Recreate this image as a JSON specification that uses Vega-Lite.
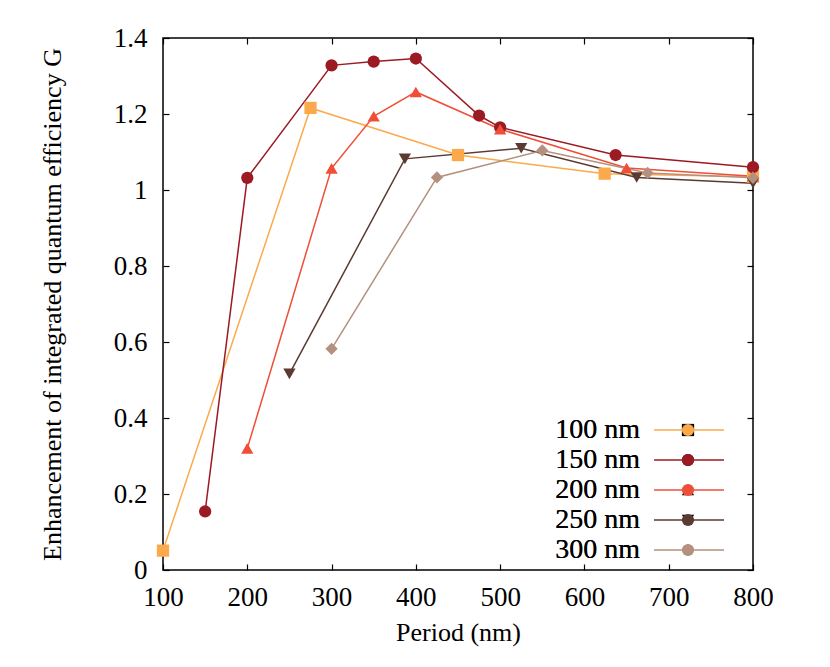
{
  "$schema": "https://vega.github.io/schema/vega-lite/v6.json",
  "width": 590,
  "height": 532,
  "autosize": "none",
  "padding": {"left": 163, "top": 38, "right": 77, "bottom": 97},
  "background": "white",
  "config": {
    "font": "Liberation Serif",
    "view": {"stroke": "black", "strokeWidth": 1.5},
    "axis": {
      "grid": false,
      "domain": false,
      "tickColor": "black",
      "tickWidth": 1.2,
      "tickSize": -6,
      "labelFont": "Liberation Serif",
      "labelFontSize": 27,
      "labelColor": "black",
      "labelFlush": false,
      "labelOverlap": false,
      "titleFont": "Liberation Serif",
      "titleFontSize": 26,
      "titleFontWeight": "normal",
      "titleColor": "black"
    },
    "legend": {
      "labelFont": "Liberation Serif",
      "labelFontSize": 28,
      "labelColor": "black"
    }
  },
  "data": {
    "values": [
      {"diameter": "100 nm", "period": 100, "G": 0.051},
      {"diameter": "100 nm", "period": 275, "G": 1.216},
      {"diameter": "100 nm", "period": 450, "G": 1.092},
      {"diameter": "100 nm", "period": 624, "G": 1.043},
      {"diameter": "100 nm", "period": 800, "G": 1.035},
      {"diameter": "150 nm", "period": 150, "G": 0.154},
      {"diameter": "150 nm", "period": 200, "G": 1.032},
      {"diameter": "150 nm", "period": 300, "G": 1.328},
      {"diameter": "150 nm", "period": 350, "G": 1.338},
      {"diameter": "150 nm", "period": 400, "G": 1.346},
      {"diameter": "150 nm", "period": 475, "G": 1.196},
      {"diameter": "150 nm", "period": 500, "G": 1.165},
      {"diameter": "150 nm", "period": 637, "G": 1.092},
      {"diameter": "150 nm", "period": 800, "G": 1.06},
      {"diameter": "200 nm", "period": 200, "G": 0.32},
      {"diameter": "200 nm", "period": 300, "G": 1.057},
      {"diameter": "200 nm", "period": 350, "G": 1.194},
      {"diameter": "200 nm", "period": 400, "G": 1.258},
      {"diameter": "200 nm", "period": 500, "G": 1.16},
      {"diameter": "200 nm", "period": 650, "G": 1.058},
      {"diameter": "200 nm", "period": 800, "G": 1.036},
      {"diameter": "250 nm", "period": 250, "G": 0.516},
      {"diameter": "250 nm", "period": 387, "G": 1.082},
      {"diameter": "250 nm", "period": 525, "G": 1.11},
      {"diameter": "250 nm", "period": 662, "G": 1.033},
      {"diameter": "250 nm", "period": 800, "G": 1.018},
      {"diameter": "300 nm", "period": 300, "G": 0.582},
      {"diameter": "300 nm", "period": 425, "G": 1.033},
      {"diameter": "300 nm", "period": 550, "G": 1.104},
      {"diameter": "300 nm", "period": 675, "G": 1.045},
      {"diameter": "300 nm", "period": 800, "G": 1.032}
    ]
  },
  "layer": [
    {
      "mark": {"type": "line", "strokeWidth": 1.5},
      "encoding": {
        "x": {
          "field": "period", "type": "quantitative",
          "scale": {"domain": [100, 800], "nice": false, "zero": false},
          "axis": {"orient": "bottom", "values": [100, 200, 300, 400, 500, 600, 700, 800], "title": "Period (nm)", "labelPadding": 20, "titlePadding": 9, "labelFont": "Liberation Serif", "labelFontSize": 27, "titleFont": "Liberation Serif", "titleFontSize": 26, "titleFontWeight": "normal", "titleColor": "black"}
        },
        "y": {
          "field": "G", "type": "quantitative",
          "scale": {"domain": [0, 1.4], "nice": false},
          "axis": {"orient": "left", "values": [0, 0.2, 0.4, 0.6, 0.8, 1, 1.2, 1.4], "format": "~g", "title": "Enhancement of integrated quantum efficiency G", "labelPadding": 22, "titlePadding": 48, "labelFont": "Liberation Serif", "labelFontSize": 27, "titleFont": "Liberation Serif", "titleFontSize": 26, "titleFontWeight": "normal", "titleColor": "black"}
        },
        "color": {
          "field": "diameter", "type": "nominal",
          "scale": {"domain": ["100 nm", "150 nm", "200 nm", "250 nm", "300 nm"], "range": ["#FBA94B", "#9C1A23", "#F04E37", "#5B3A31", "#B4907F"]},
          "legend": {
            "orient": "bottom-right", "offset": 5, "direction": "vertical",
            "title": null, "symbolType": "stroke", "symbolSize": 4900, "symbolStrokeWidth": 1.5,
            "labelOpacity": 0, "labelOffset": -62, "labelFont": "Liberation Serif", "labelFontSize": 28,
            "clipHeight": 30, "rowPadding": 0, "padding": 0
          }
        },
        "order": {"field": "period", "type": "quantitative"}
      }
    },
    {
      "mark": {"type": "point", "filled": true, "opacity": 1, "size": 150},
      "encoding": {
        "x": {
          "field": "period", "type": "quantitative",
          "axis": {"orient": "top", "values": [100, 200, 300, 400, 500, 600, 700, 800], "labels": false, "title": null}
        },
        "y": {
          "field": "G", "type": "quantitative",
          "axis": {"orient": "right", "values": [0, 0.2, 0.4, 0.6, 0.8, 1, 1.2, 1.4], "labels": false, "title": null}
        },
        "color": {
          "field": "diameter", "type": "nominal",
          "legend": {
            "orient": "none", "legendX": 511, "legendY": 378, "direction": "vertical",
            "title": null, "symbolSize": 150,
            "labelAlign": "right", "labelOffset": -62, "labelFont": "Liberation Serif", "labelFontSize": 28,
            "rowPadding": 2, "padding": 0
          }
        },
        "shape": {
          "field": "diameter", "type": "nominal",
          "scale": {"domain": ["100 nm", "150 nm", "200 nm", "250 nm", "300 nm"], "range": ["square", "circle", "triangle-up", "triangle-down", "diamond"]},
          "legend": {
            "orient": "none", "legendX": 511, "legendY": 378, "direction": "vertical",
            "title": null, "symbolSize": 150,
            "labelAlign": "right", "labelOffset": -62, "labelFont": "Liberation Serif", "labelFontSize": 28,
            "rowPadding": 2, "padding": 0
          }
        }
      }
    }
  ]
}
